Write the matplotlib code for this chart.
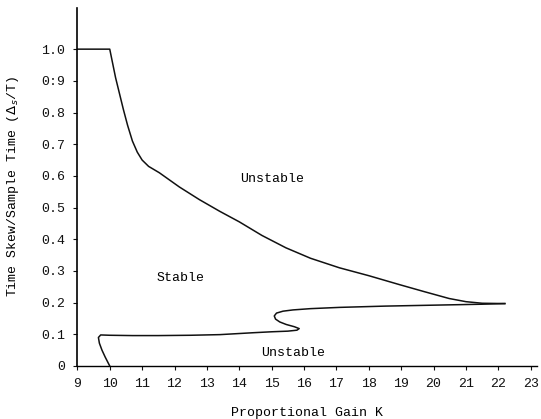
import matplotlib
matplotlib.use("Agg")
import matplotlib.pyplot as plt

# upper stability boundary
upper_k = [9.0, 10.0, 10.08, 10.18, 10.3, 10.42, 10.55, 10.7, 10.85, 11.0, 11.2, 11.53,
           12.15, 12.77, 13.4, 14.0, 14.7, 15.44, 16.2, 17.09, 18.0, 18.94, 19.7,
           20.48, 21.0, 21.5, 22.2]
upper_t = [1.0, 1.0, 0.96, 0.91, 0.86, 0.81, 0.76, 0.71, 0.675, 0.65, 0.63, 0.61,
           0.565, 0.525, 0.488, 0.455, 0.412, 0.373, 0.34, 0.31, 0.285, 0.257, 0.235,
           0.213, 0.203, 0.198, 0.197]

# lower stability boundary, from the tip back to the K axis
lower_k = [22.2, 21.5, 20.5, 19.5, 18.5, 17.1, 16.2, 15.66, 15.35, 15.15, 15.08,
           15.12, 15.25, 15.45, 15.7, 15.85, 15.78, 15.5, 15.0, 14.43, 13.4, 12.5,
           11.5, 10.7, 10.0, 9.72, 9.65, 9.68, 9.76, 9.86, 9.94, 10.0]
lower_t = [0.197, 0.195, 0.193, 0.191, 0.189, 0.185, 0.181, 0.177, 0.173, 0.167, 0.158,
           0.148, 0.139, 0.131, 0.124, 0.118, 0.113, 0.11, 0.108, 0.105, 0.099, 0.097,
           0.096, 0.096, 0.097, 0.098, 0.09, 0.072, 0.05, 0.028, 0.012, 0.0]

x_ticks = list(range(9, 24))
y_ticks = [0, 0.1, 0.2, 0.3, 0.4, 0.5, 0.6, 0.7, 0.8, 0.9, 1.0]
y_labels = ["0", "0.1", "0.2", "0.3", "0.4", "0.5", "0.6", "0.7", "0.8", "0:9", "1.0"]

plt.rcParams["font.family"] = ["Liberation Mono", "DejaVu Sans Mono"]
plt.rcParams["font.size"] = 9.5

fig = plt.figure(figsize=(5.41, 4.19), dpi=100)
ax = fig.add_axes([0.143, 0.1265, 0.850, 0.8545])

ax.plot(upper_k, upper_t, color="#111111", lw=1.1)
ax.plot(lower_k, lower_t, color="#111111", lw=1.1)

ax.text(15.0, 0.59, "Unstable", ha="center", va="center")
ax.text(12.2, 0.278, "Stable", ha="center", va="center")
ax.text(15.65, 0.04, "Unstable", ha="center", va="center")

ax.set_xlim(9, 23.2)
ax.set_ylim(0, 1.13)
ax.set_xticks(x_ticks)
ax.set_yticks(y_ticks)
ax.set_yticklabels(y_labels)
ax.tick_params(direction="out", length=3, width=0.8, colors="#111111", pad=6)

ax.spines["top"].set_visible(False)
ax.spines["right"].set_visible(False)
ax.spines["left"].set_linewidth(1.2)
ax.spines["bottom"].set_linewidth(1.0)

ax.set_xlabel("Proportional Gain K", labelpad=12)
ax.set_ylabel(r"Time Skew/Sample Time ($\Delta_s$/T)", labelpad=14)

fig.savefig("out.png", dpi=100)
